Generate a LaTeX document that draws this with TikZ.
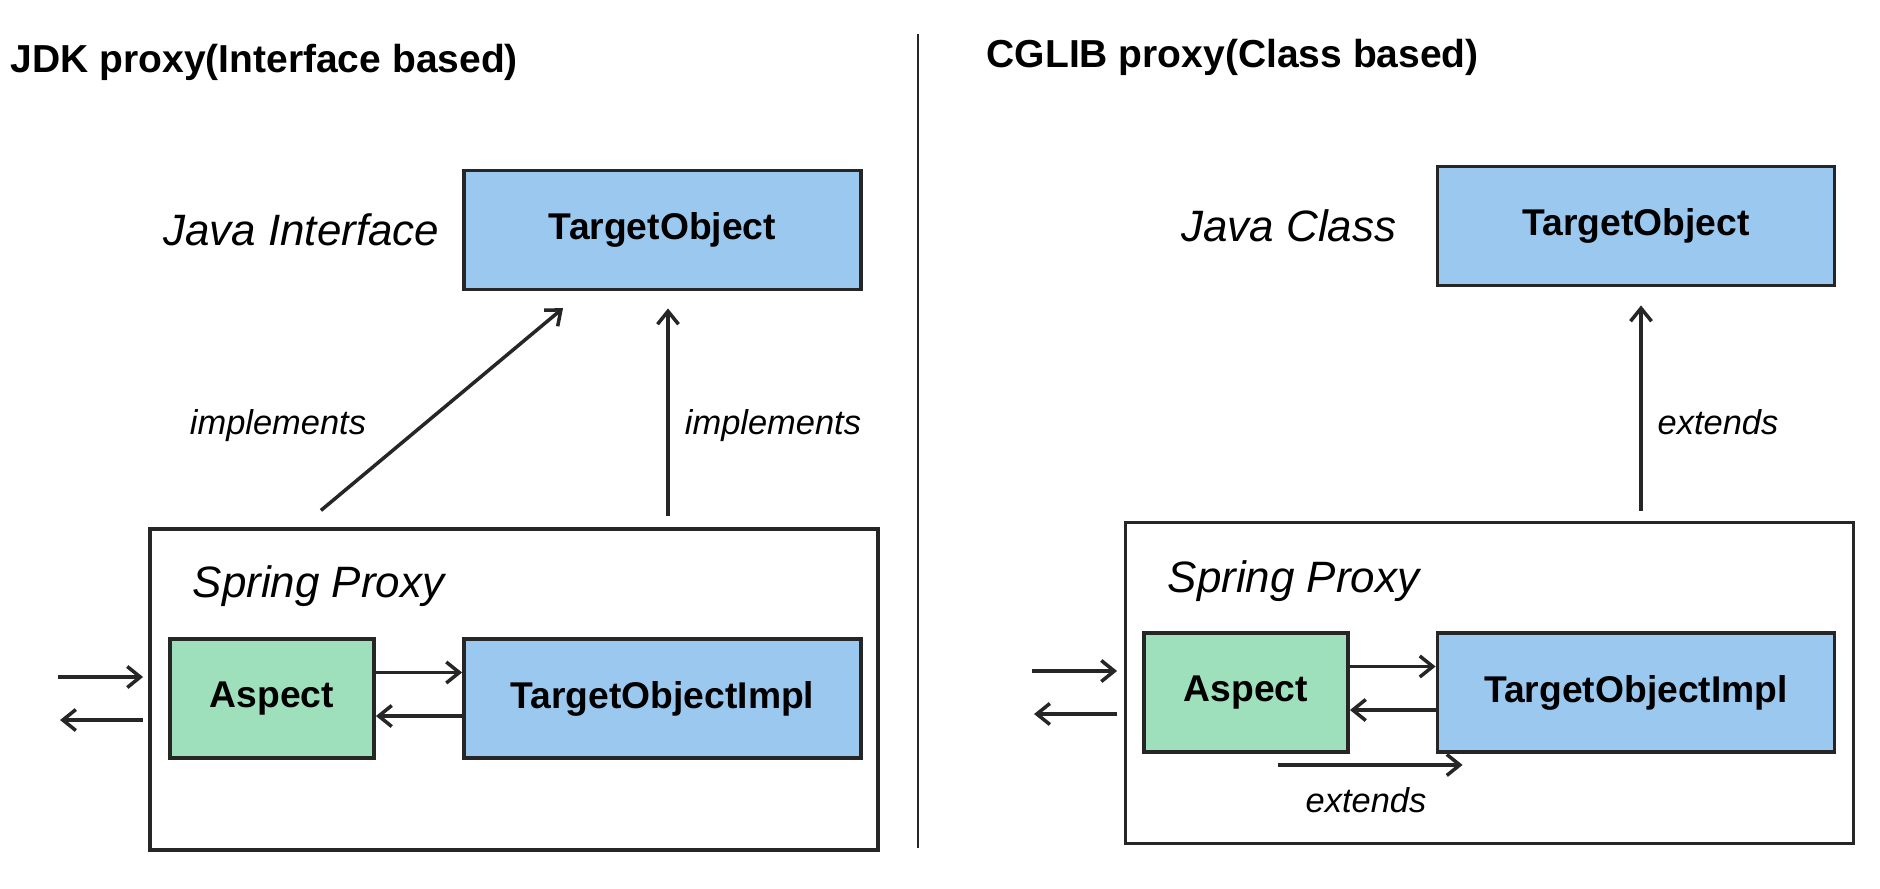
\documentclass[tikz,border=0pt]{standalone}
\usepackage{fontspec}
\setmainfont{Liberation Sans}
\usetikzlibrary{arrows.meta}
\definecolor{boxblue}{HTML}{9BC8EE}
\definecolor{boxgreen}{HTML}{9FE0BC}
\definecolor{edge}{HTML}{262626}
\tikzset{
  cls/.style={rectangle, draw=edge, line width=1.1pt, fill=boxblue, inner sep=0pt,
    minimum width=3.97cm, minimum height=1.19cm, font=\bfseries\fontsize{10.6}{12}\selectfont},
  aspectbox/.style={cls, fill=boxgreen, minimum width=2.04cm},
  proxybox/.style={rectangle, draw=edge, line width=1.1pt, minimum width=7.28cm, minimum height=3.21cm},
  arr/.style={-{Straight Barb[length=1.3mm,width=2.1mm]}, draw=edge, line width=1pt},
  lbl/.style={font=\itshape\fontsize{9.8}{12}\selectfont},
  caption/.style={font=\itshape\fontsize{12.5}{15}\selectfont, inner sep=0pt},
  heading/.style={font=\bfseries\fontsize{11.1}{13}\selectfont, inner sep=0pt}
}

\begin{document}
\begin{tikzpicture}
      \useasboundingbox (0,0) rectangle (18.8,8.88);

      % JDK side
      \node (jdk) [heading, anchor=base west] at (0.10, 8.16) {JDK proxy(Interface based)};
      \node (TO1) [cls] at (6.625, 6.58) {TargetObject};
      \node (jiface) [caption, anchor=east] at (4.40, 6.58) {Java Interface};
      \node (P1) [proxybox] at (5.14, 1.985) {};
      \node (sp1) [caption, anchor=base west] at (1.92, 2.91) {Spring Proxy};
      \node (A1) [aspectbox] at (2.72, 1.895) {Aspect};
      \node (T1) [cls] at (6.625, 1.895) {TargetObjectImpl};

      \draw[arr, shorten <=2.6mm, shorten >=2.6mm] ([xshift=-21.3mm]P1.north) -- ([xshift=-7.95mm]TO1.south);
      \draw[arr, shorten <=1.1mm, shorten >=1.7mm] ([xshift=0.55mm]TO1.south |- P1.north) -- ([xshift=0.55mm]TO1.south);
      \node (impl1) [lbl] at (2.78, 4.62) {implements};
      \node (impl2) [lbl] at (7.73, 4.62) {implements};

      \draw[arr] ([yshift=2.6mm]A1.east) -- ([yshift=2.6mm]T1.west);
      \draw[arr] ([yshift=-1.75mm]T1.west) -- ([yshift=-1.75mm]A1.east);
      \draw[arr] ([xshift=-11mm, yshift=2.15mm]A1.west) -- ([xshift=-2.5mm, yshift=2.15mm]A1.west);
      \draw[arr] ([xshift=-2.5mm, yshift=-2.15mm]A1.west) -- ([xshift=-10.8mm, yshift=-2.15mm]A1.west);

      % separator
      \coordinate (septop) at (9.18, 8.54);
      \coordinate (sepbot) at (9.18, 0.40);
      \draw[edge, line width=0.7pt] (septop) -- (sepbot);

      % CGLIB side
      \node (cglib) [heading, anchor=base west] at (9.86, 8.21) {CGLIB proxy(Class based)};
      \node (TO2) [cls] at (16.36, 6.62) {TargetObject};
      \node (jclass) [caption, anchor=east] at (13.97, 6.62) {Java Class};
      \node (P2) [proxybox] at (14.895, 2.05) {};
      \node (sp2) [caption, anchor=base west] at (11.67, 2.96) {Spring Proxy};
      \node (A2) [aspectbox] at (12.46, 1.955) {Aspect};
      \node (T2) [cls] at (16.36, 1.955) {TargetObjectImpl};

      \draw[arr, shorten <=1mm, shorten >=1.8mm] ([xshift=0.5mm]TO2.south |- P2.north) -- ([xshift=0.5mm]TO2.south);
      \node (ext1) [lbl] at (17.18, 4.66) {extends};

      \draw[arr] ([yshift=2.6mm]A2.east) -- ([yshift=2.6mm]T2.west);
      \draw[arr] ([yshift=-1.75mm]T2.west) -- ([yshift=-1.75mm]A2.east);
      \draw[arr] ([xshift=-11mm, yshift=2.15mm]A2.west) -- ([xshift=-2.5mm, yshift=2.15mm]A2.west);
      \draw[arr] ([xshift=-2.5mm, yshift=-2.15mm]A2.west) -- ([xshift=-10.8mm, yshift=-2.15mm]A2.west);
      \draw[arr] ([xshift=3.2mm, yshift=-1.1mm]A2.south) -- ([xshift=2.7mm, yshift=-1.1mm]T2.south west);
      \node (ext2) [lbl] at (13.66, 0.88) {extends};
    \end{tikzpicture}
\end{document}
